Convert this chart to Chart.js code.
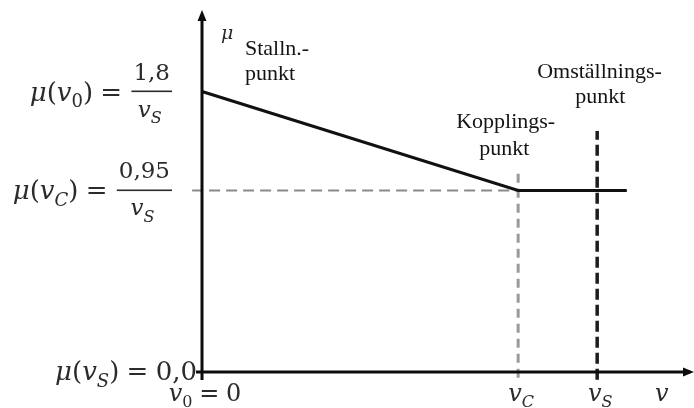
<!DOCTYPE html>
<html>
<head>
<meta charset="utf-8">
<script src="https://cdn.jsdelivr.net/npm/chart.js@4/dist/chart.umd.min.js"></script>
<style>
  html, body { margin: 0; padding: 0; background: #fff; }
  canvas { display: block; }
</style>
</head>
<body>
<canvas id="chart" width="694" height="408"></canvas>
<script>
// Friction curve μ(v): speeds in units of vS, μ in units of 1/vS
const curveSpeed    = [0, 0.8, 1.075];
const curveFriction = [1.8, 0.95, 0.95];

// Tick values and their labels
const speedTickValues    = [0, 0.8, 1.0];
const speedTickLabels    = ['v_0 = 0', 'v_C', 'v_S'];
const frictionTickValues = [0, 0.95, 1.8];
const frictionTickLhs    = ['μ(v_S) =', 'μ(v_C) =', 'μ(v_0) ='];
const frictionTickNum    = ['0,0', '0,95', '1,8'];
const frictionTickDen    = ['', 'v_S', 'v_S'];

// Guide lines (reference marks at vC and vS)
const couplingGuideFriction = [-0.03, 1.13];
const switchGuideFriction   = [-0.04, 1.46];
const couplingLevelSpeed    = [-0.025, 0.8];

// Point notes
const noteLines = [['Stalln.-', 'punkt'], ['Kopplings-', 'punkt'], ['Omställnings-', 'punkt']];

// The μ axis is drawn schematically: piecewise-linear between its tick values
const muAxisValues   = [0, 0.95, 1.8, 2.5];
const muAxisDecimals = [0, 0.5056, 0.7813, 1];

function interp(v, xs, ys) {
  let i = 0;
  if (v <= xs[0]) i = 0;
  else if (v >= xs[xs.length - 1]) i = xs.length - 2;
  else { while (v > xs[i + 1]) i++; }
  return ys[i] + (v - xs[i]) * (ys[i + 1] - ys[i]) / (xs[i + 1] - xs[i]);
}

class SchematicScale extends Chart.LinearScale {
  getPixelForValue(value) {
    if (value === null || value === undefined || isNaN(value)) return NaN;
    return this.getPixelForDecimal(interp(value, muAxisValues, muAxisDecimals));
  }
  getValueForPixel(pixel) {
    return interp(this.getDecimalForPixel(pixel), muAxisDecimals, muAxisValues);
  }
}
SchematicScale.id = 'schematic';
SchematicScale.defaults = Chart.LinearScale.defaults;
Chart.register(SchematicScale);

// ---- math text helpers ----
const MATH_FAMILY = '"DejaVu Serif", "Liberation Serif", serif';
const TEXT_FAMILY = '"Liberation Serif", "Times New Roman", serif';
const LHS_SIZE = 26;
const FRAC_SIZE = 23;
const SPEED_SIZE = 24;
const mathFont = (size, italic) => `${italic ? 'italic ' : ''}${size}px ${MATH_FAMILY}`;

function layoutMath(ctx, str, size) {
  const runs = [];
  for (let i = 0; i < str.length; i++) {
    let ch = str[i];
    let sub = false;
    if (ch === ' ') continue;
    if (ch === '_') { sub = true; ch = str[++i]; }
    const italic = /[A-Za-zμ]/.test(ch);
    const fs = sub ? Math.round(size * 0.68) : size;
    ctx.font = mathFont(fs, italic);
    const w = ctx.measureText(ch).width;
    const pad = ch === '=' ? size * 0.28 : 0;
    runs.push({ ch, italic, fs, sub, w, pre: pad, post: pad });
  }
  return runs;
}
const mathWidth = runs => runs.reduce((s, r) => s + r.pre + r.w + r.post, 0);
function drawMath(ctx, runs, x, baseline) {
  ctx.textAlign = 'left';
  ctx.textBaseline = 'alphabetic';
  for (const r of runs) {
    x += r.pre;
    ctx.font = mathFont(r.fs, r.italic);
    ctx.fillText(r.ch, x, baseline + (r.sub ? r.fs * 0.38 : 0));
    x += r.w + r.post;
  }
  return x;
}

function arrowHead(ctx, x, y, dir) {
  ctx.beginPath();
  if (dir === 'up') {
    ctx.moveTo(x, y); ctx.lineTo(x - 4.5, y + 11); ctx.lineTo(x + 4.5, y + 11);
  } else {
    ctx.moveTo(x, y); ctx.lineTo(x - 11, y - 4.5); ctx.lineTo(x - 11, y + 4.5);
  }
  ctx.closePath();
  ctx.fill();
}

const diagramPlugin = {
  id: 'diagram',
  afterDatasetsDraw(chart) {
    const { ctx, scales: { x, y }, chartArea } = chart;
    const ox = x.getPixelForValue(0);
    const oy = y.getPixelForValue(0);
    ctx.save();

    // axes
    ctx.strokeStyle = '#0c0c0c';
    ctx.fillStyle = '#0c0c0c';
    ctx.lineWidth = 3;
    ctx.beginPath();
    ctx.moveTo(ox, oy + 8);
    ctx.lineTo(ox, chartArea.top + 4);
    ctx.moveTo(ox - 6, oy);
    ctx.lineTo(chartArea.right - 4, oy);
    ctx.stroke();
    arrowHead(ctx, ox, chartArea.top - 3, 'up');
    arrowHead(ctx, chartArea.right, oy, 'right');

    // μ tick labels
    ctx.fillStyle = '#2b2b2b';
    frictionTickValues.forEach((v, i) => {
      const py = y.getPixelForValue(v);
      const lhs = layoutMath(ctx, frictionTickLhs[i], LHS_SIZE);
      if (!frictionTickDen[i]) {
        const full = layoutMath(ctx, frictionTickLhs[i] + ' ' + frictionTickNum[i], LHS_SIZE);
        drawMath(ctx, full, ox - 5 - mathWidth(full), py + 8);
        return;
      }
      const num = layoutMath(ctx, frictionTickNum[i], FRAC_SIZE);
      const den = layoutMath(ctx, frictionTickDen[i], FRAC_SIZE);
      const barW = Math.max(mathWidth(num), mathWidth(den)) + 4;
      const barRight = ox - 30;
      const barLeft = barRight - barW;
      const cx = (barLeft + barRight) / 2;
      drawMath(ctx, lhs, barLeft - 2 - mathWidth(lhs), py + 9);
      ctx.fillRect(barLeft, py - 1, barW, 1.6);
      drawMath(ctx, num, cx - mathWidth(num) / 2, py - 12);
      drawMath(ctx, den, cx - mathWidth(den) / 2 - 2, py + 25);
    });

    // speed tick labels
    speedTickValues.forEach((v, i) => {
      const px = x.getPixelForValue(v);
      const runs = layoutMath(ctx, speedTickLabels[i], SPEED_SIZE);
      drawMath(ctx, runs, px - mathWidth(runs) / 2 + 3, oy + 29);
    });

    // axis names
    const vRuns = layoutMath(ctx, 'v', SPEED_SIZE);
    drawMath(ctx, vRuns, chartArea.right - 39, oy + 29);
    const muRuns = layoutMath(ctx, 'μ', 19);
    drawMath(ctx, muRuns, ox + 19, chartArea.top + 26);

    // point notes
    ctx.fillStyle = '#141414';
    ctx.font = `22px ${TEXT_FAMILY}`;
    ctx.textAlign = 'left';
    ctx.textBaseline = 'alphabetic';
    const stall = [x.getPixelForValue(curveSpeed[0]), y.getPixelForValue(curveFriction[0])];
    const coup  = [x.getPixelForValue(curveSpeed[1]), y.getPixelForValue(curveFriction[1])];
    const swit  = [x.getPixelForValue(speedTickValues[2]), y.getPixelForValue(switchGuideFriction[1])];
    ctx.fillText(noteLines[0][0], stall[0] + 43, stall[1] - 37);
    ctx.fillText(noteLines[0][1], stall[0] + 43, stall[1] - 12);
    ctx.fillText(noteLines[1][0], coup[0] - 62, coup[1] - 62);
    ctx.fillText(noteLines[1][1], coup[0] - 39, coup[1] - 35);
    ctx.fillText(noteLines[2][0], swit[0] - 60, swit[1] - 53);
    ctx.fillText(noteLines[2][1], swit[0] - 22, swit[1] - 28);

    ctx.restore();
  }
};

new Chart(document.getElementById('chart'), {
  type: 'line',
  data: {
    datasets: [
      {
        data: curveSpeed.map((s, i) => ({ x: s, y: curveFriction[i] })),
        borderColor: '#111',
        borderWidth: 3,
        pointRadius: 0,
        tension: 0,
        clip: false,
        order: 0
      },
      {
        data: couplingLevelSpeed.map(s => ({ x: s, y: curveFriction[1] })),
        borderColor: '#8a8a8a',
        borderWidth: 2,
        borderDash: [11, 6],
        pointRadius: 0,
        clip: false,
        order: 1
      },
      {
        data: couplingGuideFriction.map(m => ({ x: curveSpeed[1], y: m })),
        borderColor: '#9a9a9a',
        borderWidth: 3,
        borderDash: [9, 6],
        pointRadius: 0,
        clip: false,
        order: 2
      },
      {
        data: switchGuideFriction.map(m => ({ x: speedTickValues[2], y: m })),
        borderColor: '#1c1c1c',
        borderWidth: 3.5,
        borderDash: [11, 5],
        pointRadius: 0,
        clip: false,
        order: 3
      }
    ]
  },
  options: {
    responsive: false,
    animation: false,
    devicePixelRatio: 1,
    layout: { padding: { left: 202, right: 0, top: 13, bottom: 36 } },
    plugins: { legend: { display: false }, tooltip: { enabled: false } },
    scales: {
      x: { type: 'linear', min: 0, max: 1.245, display: false },
      y: { type: 'schematic', min: 0, max: 2.5, display: false }
    }
  },
  plugins: [diagramPlugin]
});
</script>
</body>
</html>
